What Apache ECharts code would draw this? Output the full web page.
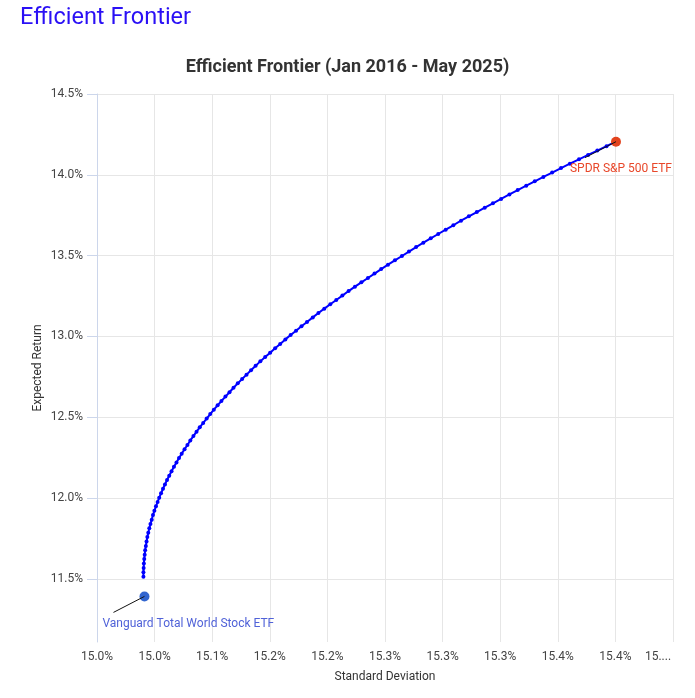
<!DOCTYPE html>
<html><head><meta charset="utf-8">
<script src="https://cdn.jsdelivr.net/npm/echarts@6/dist/echarts.min.js"></script>
<style>html,body{margin:0;padding:0;background:#fff;}#c{width:695px;height:698px;}</style>
</head><body><div id="c"></div>
<script>
const frontierReturn = [
11.514, 11.541, 11.568, 11.596, 11.623, 11.650, 11.677, 11.704, 11.731, 11.759,
11.786, 11.813, 11.840, 11.867, 11.895, 11.922, 11.949, 11.976, 12.003, 12.030,
12.058, 12.085, 12.112, 12.139, 12.166, 12.194, 12.221, 12.248, 12.275, 12.302,
12.329, 12.357, 12.384, 12.411, 12.438, 12.465, 12.492, 12.520, 12.547, 12.574,
12.601, 12.628, 12.655, 12.683, 12.710, 12.737, 12.764, 12.791, 12.819, 12.846,
12.873, 12.900, 12.927, 12.954, 12.982, 13.009, 13.036, 13.063, 13.090, 13.118,
13.145, 13.172, 13.199, 13.226, 13.253, 13.281, 13.308, 13.335, 13.362, 13.389,
13.417, 13.444, 13.471, 13.498, 13.525, 13.553, 13.580, 13.607, 13.634, 13.661,
13.688, 13.716, 13.743, 13.770, 13.797, 13.824, 13.851, 13.879, 13.906, 13.933,
13.960, 13.987, 14.014, 14.042, 14.069, 14.096, 14.123, 14.150, 14.177, 14.205
];
const frontierStd = [
14.9903, 14.9903, 14.9905, 14.9907, 14.9910, 14.9914, 14.9918, 14.9924, 14.9930, 14.9937,
14.9945, 14.9954, 14.9964, 14.9975, 14.9986, 14.9998, 15.0012, 15.0026, 15.0040, 15.0056,
15.0073, 15.0090, 15.0108, 15.0127, 15.0147, 15.0168, 15.0190, 15.0212, 15.0235, 15.0260,
15.0285, 15.0310, 15.0337, 15.0364, 15.0392, 15.0422, 15.0452, 15.0483, 15.0514, 15.0547,
15.0580, 15.0615, 15.0650, 15.0685, 15.0722, 15.0760, 15.0798, 15.0837, 15.0877, 15.0918,
15.0960, 15.1003, 15.1046, 15.1090, 15.1135, 15.1181, 15.1228, 15.1275, 15.1323, 15.1373,
15.1422, 15.1473, 15.1525, 15.1577, 15.1630, 15.1684, 15.1739, 15.1795, 15.1852, 15.1909,
15.1967, 15.2026, 15.2086, 15.2147, 15.2208, 15.2270, 15.2333, 15.2397, 15.2462, 15.2527,
15.2593, 15.2660, 15.2728, 15.2797, 15.2866, 15.2937, 15.3008, 15.3080, 15.3152, 15.3226,
15.3300, 15.3375, 15.3451, 15.3528, 15.3605, 15.3684, 15.3763, 15.3843, 15.3923, 15.4004
];
const assetNames = ['Vanguard Total World Stock ETF', 'SPDR S&P 500 ETF'];
const assetStd = [14.9912, 15.4005];
const assetReturn = [11.392, 14.205];
const xTickLabels = ['15.0%','15.0%','15.1%','15.2%','15.2%','15.3%','15.3%','15.3%','15.4%','15.4%','15....'];
const yTickValues = [11.5, 12.0, 12.5, 13.0, 13.5, 14.0, 14.5];

const FONT = 'Roboto';
const X_MIN = 14.95, X_STEP = 0.05;

const chart = echarts.init(document.getElementById('c'), null, {renderer: 'canvas'});
const frontierData = frontierStd.map((s, i) => [s, frontierReturn[i]]);
const assetColors = ['#3165cf', '#e2431e'];
const labelColors = ['#5062d8', '#e8472a'];
const labelOffsets = [[-42, 28], [-46, 27]];
const assetData = assetNames.map((n, i) => ({
  name: n,
  value: [assetStd[i], assetReturn[i]],
  itemStyle: {color: assetColors[i], opacity: 1},
  label: {show: true, formatter: n, color: labelColors[i], offset: labelOffsets[i]}
}));

chart.setOption({
  animation: false,
  textStyle: {fontFamily: FONT},
  title: [
    {text: 'Efficient Frontier', left: 15, top: 1,
     textStyle: {fontFamily: FONT, fontSize: 23.5, fontWeight: 'normal', color: '#2a10f5'}},
    {text: 'Efficient Frontier (Jan 2016 - May 2025)', left: 'center', top: 53,
     textStyle: {fontFamily: FONT, fontSize: 18, fontWeight: 'bold', color: '#333'}}
  ],
  grid: {left: 97, right: 22, top: 94, bottom: 56, containLabel: false},
  xAxis: {
    type: 'value', min: X_MIN, max: 15.45, interval: X_STEP,
    name: 'Standard Deviation', nameLocation: 'middle', nameGap: 29,
    nameTextStyle: {fontFamily: FONT, fontSize: 12, color: '#333'},
    axisLine: {show: false}, axisTick: {show: false},
    axisLabel: {
      fontFamily: FONT, fontSize: 12, color: '#444', margin: 9,
      formatter: function (v) {
        const i = Math.round((v - X_MIN) / X_STEP);
        if (i === xTickLabels.length - 1) return '{last|' + xTickLabels[i] + '}';
        return xTickLabels[i];
      },
      rich: {last: {fontFamily: FONT, fontSize: 12, color: '#444', padding: [0, 30, 0, 0]}}
    },
    splitLine: {show: true, showMinLine: false, lineStyle: {color: '#e6e6e6', width: 1}}
  },
  yAxis: {
    type: 'value', min: 11.11, max: 14.5, splitNumber: 7,
    name: 'Expected Return', nameLocation: 'middle', nameGap: 53, nameMoveOverlap: false,
    nameTextStyle: {fontFamily: FONT, fontSize: 12, color: '#333'},
    axisLine: {show: true, lineStyle: {color: '#ccd6eb', width: 1}},
    axisTick: {show: true, length: 10, customValues: yTickValues, lineStyle: {color: '#ccd6eb'}},
    axisLabel: {fontFamily: FONT, fontSize: 12, color: '#444', margin: 14,
      customValues: yTickValues,
      formatter: v => v.toFixed(1) + '%'},
    splitLine: {show: true, lineStyle: {color: '#e6e6e6', width: 1}}
  },
  series: [
    {
      name: 'Efficient Frontier', type: 'line', data: frontierData,
      showSymbol: true, symbol: 'circle', symbolSize: 4,
      itemStyle: {color: '#0000ff'},
      lineStyle: {color: '#0000ff', width: 2},
      z: 2
    },
    {
      name: 'Assets', type: 'scatter', data: assetData, symbolSize: 10,
      label: {show: true, position: 'inside', align: 'left', verticalAlign: 'middle',
        fontFamily: FONT, fontSize: 12},
      z: 4
    }
  ]
});

// leader lines from each asset point to its label
const leaders = assetNames.map((n, i) => {
  const p = chart.convertToPixel({gridIndex: 0}, [assetStd[i], assetReturn[i]]);
  return {type: 'line', z: 10,
    shape: {x1: p[0], y1: p[1], x2: p[0] - 31, y2: p[1] + 16},
    style: {stroke: '#111', lineWidth: 1}};
});
chart.setOption({graphic: leaders});
</script>
</body></html>
